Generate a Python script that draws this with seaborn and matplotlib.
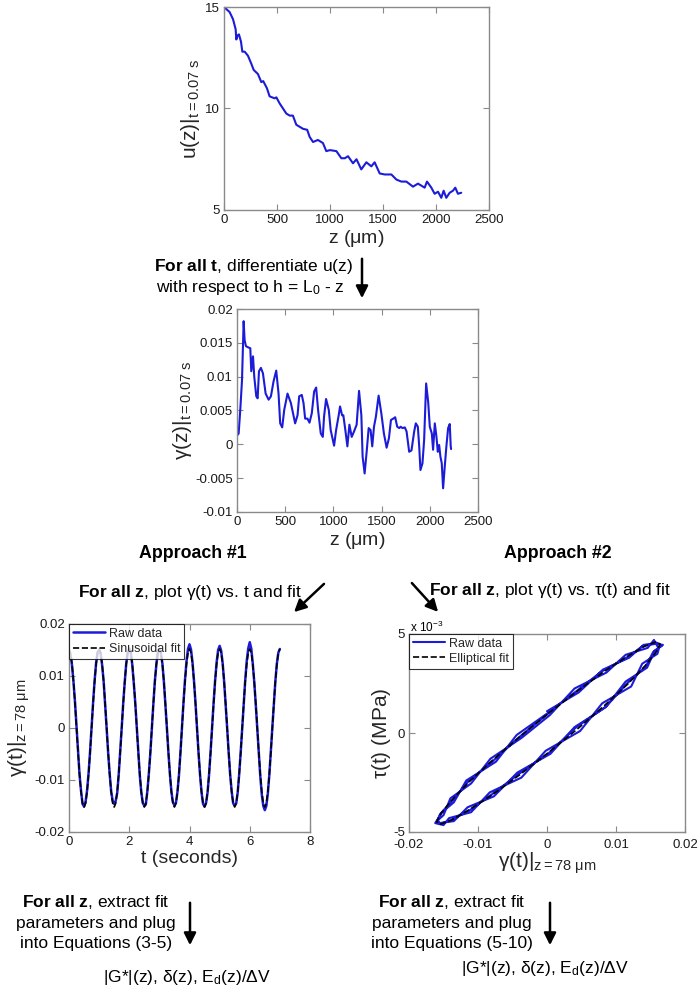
import numpy as np
import matplotlib
matplotlib.use("Agg")
import matplotlib.pyplot as plt
from matplotlib.ticker import FuncFormatter
import seaborn as sns

# u(z) at t = 0.07 s
z_u = [0, 53, 85, 110, 116, 128, 141, 160, 173, 195, 226, 258, 280, 320, 352, 370, 405, 430,
       478, 494, 525, 588, 620, 650, 682, 745, 785, 808, 840, 886, 933, 965, 1000, 1060, 1107,
       1140, 1170, 1217, 1250, 1295, 1343, 1390, 1421, 1469, 1516, 1579, 1626, 1673, 1720,
       1783, 1830, 1893, 1915, 1956, 1987, 2019, 2050, 2072, 2097, 2129, 2160, 2182, 2207, 2238]
u_vals = [15.0, 14.75, 14.4, 13.9, 13.4, 13.6, 13.65, 13.3, 12.8, 12.8, 12.6, 12.2, 11.9, 11.7,
          11.3, 11.35, 11.0, 10.6, 10.5, 10.55, 10.25, 9.75, 9.65, 9.65, 9.2, 9.0, 8.95, 8.6,
          8.35, 8.45, 8.3, 7.9, 7.95, 7.9, 7.55, 7.55, 7.65, 7.3, 7.5, 7.0, 7.35, 7.15, 7.35,
          6.8, 6.75, 6.75, 6.5, 6.4, 6.4, 6.15, 6.3, 6.1, 6.4, 6.1, 5.8, 5.9, 5.6, 5.95, 5.6,
          5.85, 5.95, 6.1, 5.8, 5.85]

# gamma(z) at t = 0.07 s
z_g = [7, 17, 34, 52, 69, 79, 93, 121, 138, 148, 166, 179, 200, 214, 228, 248, 269, 297, 328,
       352, 379, 407, 431, 448, 469, 490, 524, 559, 603, 628, 645, 672, 690, 707, 731, 752, 776,
       800, 821, 841, 869, 890, 903, 924, 952, 972, 1007, 1028, 1055, 1069, 1090, 1103, 1124,
       1145, 1166, 1190, 1214, 1241, 1266, 1290, 1303, 1324, 1345, 1366, 1386, 1403, 1421,
       1441, 1469, 1497, 1524, 1552, 1576, 1597, 1621, 1641, 1662, 1683, 1697, 1717, 1741,
       1759, 1786, 1810, 1838, 1855, 1876, 1890, 1903, 1924, 1941, 1962, 1983, 2000, 2021,
       2034, 2052, 2069, 2083, 2097, 2110, 2124, 2138, 2155, 2172, 2190, 2207, 2217, 2221]
g_vals = [0.0014, 0.0016, 0.0051, 0.0095, 0.0182, 0.0154, 0.0145, 0.0143, 0.0142, 0.0108,
          0.0130, 0.0100, 0.0071, 0.0068, 0.0108, 0.0113, 0.0105, 0.0075, 0.0066, 0.0071,
          0.0093, 0.0109, 0.0075, 0.0031, 0.0025, 0.0051, 0.0075, 0.0061, 0.0031, 0.0043,
          0.0071, 0.0073, 0.0061, 0.0038, 0.0038, 0.0032, 0.0046, 0.0078, 0.0084, 0.0051,
          0.0016, 0.0011, 0.0041, 0.0067, 0.0051, 0.0021, -0.0002, 0.0021, 0.0043, 0.0056,
          0.0043, 0.0043, 0.0021, -0.0003, 0.0029, 0.0011, 0.0019, 0.0029, 0.0079, 0.0043,
          -0.0018, -0.0043, -0.0011, 0.0024, 0.0021, -0.0003, 0.0026, 0.0041, 0.0072, 0.0046,
          0.0016, -0.0005, 0.0009, 0.0036, 0.0038, 0.0040, 0.0026, 0.0024, 0.0026, 0.0024,
          0.0025, 0.0019, -0.0011, -0.0009, 0.0019, 0.0031, 0.0026, -0.0003, -0.0038, -0.0028,
          0.0006, 0.0090, 0.0063, 0.0026, 0.0016, -0.0008, 0.0031, 0.0011, -0.0011, -0.0001,
          -0.0018, -0.0028, -0.0065, -0.0033, -0.0003, 0.0024, 0.0030, -0.0003, -0.0007]

# gamma(t) at z = 78 um, sampled every 0.05 s
t_sec = np.round(np.arange(141) * 0.05, 2)
g_raw = [0.0141, 0.0140, 0.0121, 0.0088, 0.0049, 0.0002, -0.0045, -0.0090, -0.0121, -0.0146,
         -0.0151, -0.0142, -0.0120, -0.0087, -0.0045, 0.0003, 0.0049, 0.0091, 0.0125, 0.0146,
         0.0150, 0.0143, 0.0121, 0.0090, 0.0046, -0.0001, -0.0048, -0.0088, -0.0122, -0.0140,
         -0.0146, -0.0140, -0.0125, -0.0090, -0.0046, 0.0001, 0.0048, 0.0088, 0.0124, 0.0145,
         0.0153, 0.0146, 0.0122, 0.0087, 0.0048, 0.0001, -0.0046, -0.0091, -0.0124, -0.0144,
         -0.0150, -0.0147, -0.0122, -0.0088, -0.0048, 0.0000, 0.0046, 0.0090, 0.0122, 0.0147,
         0.0151, 0.0144, 0.0124, 0.0089, 0.0045, 0.0000, -0.0047, -0.0089, -0.0123, -0.0143,
         -0.0149, -0.0144, -0.0123, -0.0091, -0.0047, 0.0002, 0.0049, 0.0092, 0.0128, 0.0152,
         0.0161, 0.0151, 0.0126, 0.0090, 0.0047, -0.0001, -0.0048, -0.0090, -0.0124, -0.0146,
         -0.0151, -0.0144, -0.0124, -0.0089, -0.0046, 0.0002, 0.0048, 0.0091, 0.0126, 0.0150,
         0.0158, 0.0149, 0.0125, 0.0089, 0.0046, 0.0000, -0.0047, -0.0090, -0.0122, -0.0145,
         -0.0149, -0.0145, -0.0124, -0.0088, -0.0046, 0.0001, 0.0048, 0.0092, 0.0129, 0.0153,
         0.0165, 0.0153, 0.0124, 0.0088, 0.0045, -0.0002, -0.0049, -0.0093, -0.0128, -0.0150,
         -0.0158, -0.0150, -0.0126, -0.0090, -0.0046, 0.0001, 0.0047, 0.0090, 0.0124, 0.0145,
         0.0152]
g_fit = [0.0152, 0.0145, 0.0123, 0.0089, 0.0047, 0.0, -0.0047, -0.0089, -0.0123, -0.0145,
         -0.0152, -0.0145, -0.0123, -0.0089, -0.0047, 0.0, 0.0047, 0.0089, 0.0123, 0.0145,
         0.0152, 0.0145, 0.0123, 0.0089, 0.0047, 0.0, -0.0047, -0.0089, -0.0123, -0.0145,
         -0.0152, -0.0145, -0.0123, -0.0089, -0.0047, 0.0, 0.0047, 0.0089, 0.0123, 0.0145,
         0.0152, 0.0145, 0.0123, 0.0089, 0.0047, 0.0, -0.0047, -0.0089, -0.0123, -0.0145,
         -0.0152, -0.0145, -0.0123, -0.0089, -0.0047, 0.0, 0.0047, 0.0089, 0.0123, 0.0145,
         0.0152, 0.0145, 0.0123, 0.0089, 0.0047, 0.0, -0.0047, -0.0089, -0.0123, -0.0145,
         -0.0152, -0.0145, -0.0123, -0.0089, -0.0047, 0.0, 0.0047, 0.0089, 0.0123, 0.0145,
         0.0152, 0.0145, 0.0123, 0.0089, 0.0047, 0.0, -0.0047, -0.0089, -0.0123, -0.0145,
         -0.0152, -0.0145, -0.0123, -0.0089, -0.0047, 0.0, 0.0047, 0.0089, 0.0123, 0.0145,
         0.0152, 0.0145, 0.0123, 0.0089, 0.0047, 0.0, -0.0047, -0.0089, -0.0123, -0.0145,
         -0.0152, -0.0145, -0.0123, -0.0089, -0.0047, 0.0, 0.0047, 0.0089, 0.0123, 0.0145,
         0.0152, 0.0145, 0.0123, 0.0089, 0.0047, 0.0, -0.0047, -0.0089, -0.0123, -0.0145,
         -0.0152, -0.0145, -0.0123, -0.0089, -0.0047, 0.0, 0.0047, 0.0089, 0.0123, 0.0145,
         0.0152]

# hysteresis loop: gamma vs tau (tau in units of 1e-3 MPa), three raw cycles
loop_gamma = [0.0000, 0.0046, 0.0081, 0.0119, 0.0140, 0.0160, 0.0166, 0.0156, 0.0145, 0.0114,
              0.0085, 0.0040, 0.0005, -0.0043, -0.0077, -0.0115, -0.0135, -0.0156, -0.0158,
              -0.0150, -0.0140, -0.0110, -0.0082, -0.0037,
              0.0004, 0.0040, 0.0086, 0.0114, 0.0146, 0.0155, 0.0162, 0.0160, 0.0138, 0.0122,
              0.0080, 0.0048, -0.0002, -0.0037, -0.0083, -0.0110, -0.0142, -0.0150, -0.0162,
              -0.0152, -0.0135, -0.0117, -0.0074, -0.0044,
              0.0001, 0.0044, 0.0079, 0.0120, 0.0139, 0.0157, 0.0168, 0.0154, 0.0143, 0.0116,
              0.0086, 0.0041, 0.0003, -0.0042, -0.0080, -0.0112, -0.0139, -0.0155, -0.0159,
              -0.0155, -0.0137, -0.0114, -0.0078, -0.0040, 0.0002]
loop_tau = [1.10, 2.05, 3.20, 3.80, 4.45, 4.55, 4.40, 4.15, 3.30, 2.60, 1.30, 0.30, -1.05,
            -2.00, -3.20, -3.75, -4.45, -4.55, -4.40, -4.15, -3.30, -2.55, -1.30, -0.25,
            0.90, 2.25, 3.05, 3.95, 4.30, 4.70, 4.25, 4.00, 3.50, 2.35, 1.50, 0.10, -0.90,
            -2.25, -3.00, -4.00, -4.30, -4.65, -4.55, -4.00, -3.50, -2.40, -1.45, -0.10,
            1.00, 2.15, 3.10, 3.90, 4.40, 4.50, 4.45, 4.10, 3.35, 2.50, 1.35, 0.25, -1.00,
            -2.10, -3.10, -3.90, -4.40, -4.60, -4.45, -4.10, -3.40, -2.45, -1.40, -0.20, 1.00]
fit_gamma = [0.0002, 0.0044, 0.0083, 0.0117, 0.0142, 0.0158, 0.0164, 0.0158, 0.0142, 0.0117,
             0.0083, 0.0044, 0.0002, -0.0040, -0.0079, -0.0113, -0.0138, -0.0154, -0.0160,
             -0.0154, -0.0138, -0.0113, -0.0079, -0.0040, 0.0002]
fit_tau = [0.99, 2.12, 3.11, 3.88, 4.39, 4.60, 4.49, 4.08, 3.39, 2.47, 1.38, 0.20, -0.99,
           -2.12, -3.11, -3.88, -4.39, -4.60, -4.49, -4.08, -3.39, -2.47, -1.38, -0.20, 0.99]

sns.set_style("white")
plt.rcParams["font.family"] = ["Liberation Sans", "DejaVu Sans"]
plt.rcParams["mathtext.fontset"] = "custom"
plt.rcParams["mathtext.rm"] = "Liberation Sans"
plt.rcParams["mathtext.bf"] = "Liberation Sans:bold"
plt.rcParams["mathtext.it"] = "Liberation Sans:italic"
plt.rcParams["mathtext.default"] = "regular"

W, H = 700, 996
BLUE = "#1c1cd8"
FLOW = 12.5
fig = plt.figure(figsize=(W / 100, H / 100), dpi=100)


def box(x0, y0, x1, y1):
    # pixel box -> figure axes
    return fig.add_axes([x0 / W, 1 - y1 / H, (x1 - x0) / W, (y1 - y0) / H])


def style(ax, xpad=3):
    for s in ax.spines.values():
        s.set_color("#8a8a8a")
        s.set_linewidth(1.0)
    ax.tick_params(direction="in", bottom=True, left=True, top=True, right=True,
                   length=4, width=0.8, color="#8a8a8a", labelsize=9.5,
                   labelcolor="#1a1a1a", pad=3)
    ax.tick_params(axis="x", pad=xpad)
    ax.xaxis.set_major_formatter(FuncFormatter(lambda v, p: f"{v:g}"))
    ax.yaxis.set_major_formatter(FuncFormatter(lambda v, p: f"{v:g}"))


def txt(x, y, s, size=FLOW, ha="center", **kw):
    fig.text(x / W, 1 - y / H, s, fontsize=size, ha=ha, va="center", color="black", **kw)


def arrow(x0, y0, x1, y1):
    fig.add_artist(matplotlib.patches.FancyArrowPatch(
        (x0 / W, 1 - y0 / H), (x1 / W, 1 - y1 / H), transform=fig.transFigure,
        arrowstyle="-|>", mutation_scale=18, lw=1.8, color="black"))


def legend(ax):
    leg = ax.legend(loc="upper left", fontsize=9, frameon=True, fancybox=False,
                    borderaxespad=0, handlelength=2.6, borderpad=0.3, labelspacing=0.25,
                    handletextpad=0.3)
    leg.get_frame().set_edgecolor("black")
    leg.get_frame().set_linewidth(0.8)


# top: u(z)
ax1 = box(224, 7, 489, 210)
sns.lineplot(x=z_u, y=u_vals, ax=ax1, color=BLUE, lw=1.5)
ax1.set_xlim(0, 2500)
ax1.set_ylim(5, 15)
ax1.set_xticks(range(0, 2501, 500))
ax1.set_yticks([5, 10, 15])
style(ax1)
ax1.set_xlabel(r"z ($\mu$m)", fontsize=14, labelpad=1)
ax1.set_ylabel(r"u(z)$|_{t=0.07\ s}$", fontsize=15, labelpad=2)

# middle: gamma(z)
ax2 = box(237, 309, 478, 512)
sns.lineplot(x=z_g, y=g_vals, ax=ax2, color=BLUE, lw=1.5)
ax2.set_xlim(0, 2500)
ax2.set_ylim(-0.01, 0.02)
ax2.set_xticks(range(0, 2501, 500))
ax2.set_yticks(np.arange(-0.01, 0.0201, 0.005))
style(ax2)
ax2.set_xlabel(r"z ($\mu$m)", fontsize=14, labelpad=1)
ax2.set_ylabel(r"$\gamma$(z)$|_{t=0.07\ s}$", fontsize=15, labelpad=1)

# bottom left: gamma(t)
ax3 = box(69, 624, 310, 832)
sns.lineplot(x=t_sec, y=g_raw, ax=ax3, color=BLUE, lw=1.8, label="Raw data")
sns.lineplot(x=t_sec, y=g_fit, ax=ax3, color="black", lw=1.2, linestyle="--",
             label="Sinusoidal fit")
ax3.set_xlim(0, 8)
ax3.set_ylim(-0.02, 0.02)
ax3.set_xticks([0, 2, 4, 6, 8])
ax3.set_yticks([-0.02, -0.01, 0, 0.01, 0.02])
style(ax3)
ax3.set_xlabel("t (seconds)", fontsize=14, labelpad=1)
ax3.set_ylabel(r"$\gamma$(t)$|_{z=78\ \mu m}$", fontsize=15, labelpad=2)
legend(ax3)

# bottom right: hysteresis loop
ax4 = box(409, 634, 685, 832)
sns.lineplot(x=loop_gamma, y=loop_tau, ax=ax4, color=BLUE, lw=1.5, sort=False,
             estimator=None, label="Raw data")
sns.lineplot(x=fit_gamma, y=fit_tau, ax=ax4, color="black", lw=1.2, linestyle="--",
             sort=False, estimator=None, label="Elliptical fit")
ax4.set_xlim(-0.02, 0.02)
ax4.set_ylim(-5, 5)
ax4.set_xticks([-0.02, -0.01, 0, 0.01, 0.02])
ax4.set_yticks([-5, 0, 5])
style(ax4, xpad=5)
ax4.set_xlabel(r"$\gamma$(t)$|_{z=78\ \mu m}$", fontsize=15, labelpad=0)
ax4.set_ylabel(r"$\tau$(t) (MPa)", fontsize=15, labelpad=0)
legend(ax4)
txt(410, 627, r"x 10$^{-3}$", size=8.5, ha="left")

# flow annotations
txt(253, 267, r"$\bf{For\ all\ t}$, differentiate u(z)")
txt(250, 287, r"with respect to h = L$_0$ - z")
arrow(362, 256, 362, 301)

txt(193, 553, "Approach #1", size=12.8, weight="bold")
txt(558, 553, "Approach #2", size=12.8, weight="bold")

txt(190, 592, r"$\bf{For\ all\ z}$, plot $\gamma$(t) vs. t and fit")
txt(550, 590, r"$\bf{For\ all\ z}$, plot $\gamma$(t) vs. $\tau$(t) and fit")
arrow(326, 582, 292, 614)
arrow(410, 581, 440, 614)

for cx, eq, ax_ in [(96, "(3-5)", 190), (452, "(5-10)", 550)]:
    txt(cx, 902, r"$\bf{For\ all\ z}$, extract fit")
    txt(cx, 923, "parameters and plug")
    txt(cx, 943, f"into Equations {eq}")
    arrow(ax_, 900, ax_, 948)

txt(187, 977, r"|G*|(z), $\delta$(z), E$_d$(z)/$\Delta$V")
txt(545, 968, r"|G*|(z), $\delta$(z), E$_d$(z)/$\Delta$V")

fig.savefig("out.png", dpi=100, facecolor="white")
